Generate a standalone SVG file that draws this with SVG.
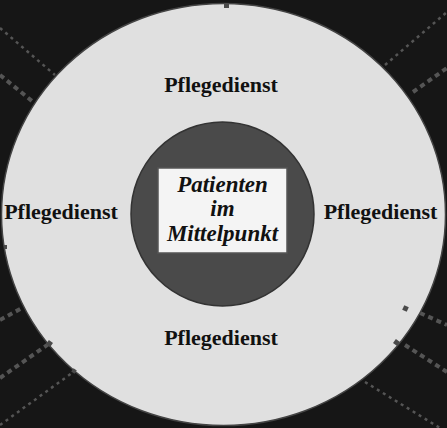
<svg xmlns="http://www.w3.org/2000/svg" width="447" height="428" viewBox="0 0 447 428">
<defs>
<style>
.bg{fill:#161616}
.dot{stroke:#555;fill:none}
.thin{stroke-width:2.5;stroke-dasharray:3 4}
.thick{stroke-width:4;stroke-dasharray:5 4}
.mark{fill:#4a4a4a}
.lbl{font-family:"Liberation Serif","Times New Roman",serif;font-weight:bold;font-size:22px;fill:#111;text-anchor:middle}
.ctr{font-family:"Liberation Serif","Times New Roman",serif;font-weight:bold;font-style:italic;font-size:23px;fill:#111;text-anchor:middle}
</style>
</defs>
<rect class="bg" x="0" y="0" width="447" height="428"/>
<g id="connectors">
<line class="dot thin" x1="0" y1="28" x2="55" y2="75"/>
<line class="dot thick" x1="0" y1="75" x2="32" y2="101"/>
<line class="dot thin" x1="385" y1="65" x2="447" y2="12"/>
<line class="dot thick" x1="413" y1="92" x2="447" y2="68"/>
<line class="dot thick" x1="0" y1="320" x2="22" y2="308"/>
<line class="dot thick" x1="0" y1="378" x2="50" y2="343"/>
<line class="dot thin" x1="0" y1="425" x2="72" y2="373"/>
<line class="dot thick" x1="420" y1="313" x2="447" y2="325"/>
<line class="dot thick" x1="405" y1="345" x2="447" y2="372"/>
<line class="dot thin" x1="365" y1="382" x2="440" y2="428"/>
</g>
<g id="outer">
<ellipse cx="223.5" cy="214.5" rx="222" ry="211" fill="#e0e0e0" stroke="#444" stroke-width="1.5"/>
<rect class="mark" x="224" y="3" width="5" height="5"/>
<rect class="mark" x="4" y="245" width="3" height="4"/>
<rect class="mark" x="47" y="341" width="5" height="5" transform="rotate(35 49.5 343.5)"/>
<rect class="mark" x="72" y="369" width="4" height="4" transform="rotate(35 74 371)"/>
<rect class="mark" x="403" y="306" width="5" height="5" transform="rotate(25 405.5 308.5)"/>
<rect class="mark" x="394" y="340" width="5" height="5" transform="rotate(35 396.5 342.5)"/>
</g>
<g id="top"><text class="lbl" x="221" y="92">Pflegedienst</text></g>
<g id="left"><text class="lbl" x="61" y="219">Pflegedienst</text></g>
<g id="right"><text class="lbl" x="380.5" y="219">Pflegedienst</text></g>
<g id="bottom"><text class="lbl" x="221" y="345">Pflegedienst</text></g>
<g id="center">
<ellipse cx="222.5" cy="214" rx="91.5" ry="92" fill="#4a4a4a" stroke="#333" stroke-width="1.5"/>
<rect x="158" y="168" width="129" height="85" fill="#f4f4f4" stroke="#555" stroke-width="1.5"/>
<text class="ctr" x="222.5" y="192">Patienten</text>
<text class="ctr" x="222.5" y="216">im</text>
<text class="ctr" x="222.5" y="241">Mittelpunkt</text>
</g>
</svg>
